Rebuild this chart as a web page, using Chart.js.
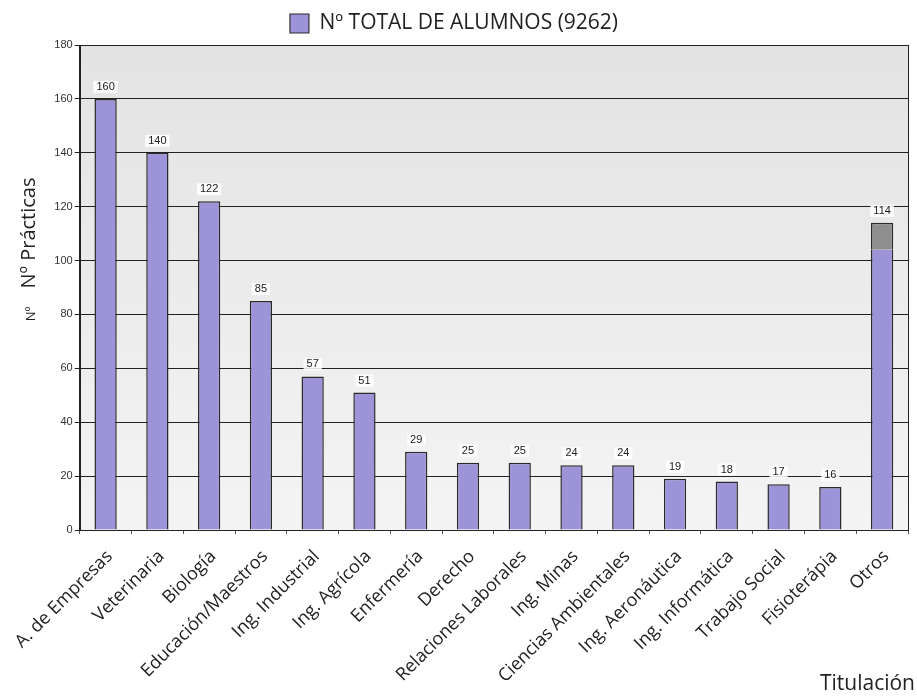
<!DOCTYPE html>
<html>
<head>
<meta charset="utf-8">
<script src="https://cdn.jsdelivr.net/npm/chart.js@4/dist/chart.umd.min.js"></script>
<style>
  html, body { margin: 0; padding: 0; background: #fff; }
  canvas { display: block; }
</style>
</head>
<body>
<canvas id="grafico" width="917" height="699"></canvas>
<script>
const titulaciones = ['A. de Empresas', 'Veterinaria', 'Biología', 'Educación/Maestros', 'Ing. Industrial',
    'Ing. Agrícola', 'Enfermería', 'Derecho', 'Relaciones Laborales', 'Ing. Minas', 'Ciencias Ambientales',
    'Ing. Aeronáutica', 'Ing. Informática', 'Trabajo Social', 'Fisioterápia', 'Otros'];
const practicas = [160, 140, 122, 85, 57, 51, 29, 25, 25, 24, 24, 19, 18, 17, 16, 114];
// tramo gris que se ve en lo alto de la barra "Otros"
const parteGris = [0, 0, 0, 0, 0, 0, 0, 0, 0, 0, 0, 0, 0, 0, 0, 10];
const ticksY = [0, 20, 40, 60, 80, 100, 120, 140, 160, 180];
const leyenda = 'Nº TOTAL DE ALUMNOS (9262)';

const parteMorada = practicas.map((v, i) => v - parteGris[i]);

const fondoYTextos = {
    id: 'fondoYTextos',
    beforeDraw(chart) {
        const { ctx, chartArea: a } = chart;
        const g = ctx.createLinearGradient(0, a.top, 0, a.bottom);
        g.addColorStop(0, '#e3e3e3');
        g.addColorStop(1, '#f4f4f4');
        ctx.save();
        ctx.fillStyle = g;
        ctx.fillRect(a.left, a.top, a.right - a.left, a.bottom - a.top);
        ctx.restore();
    },
    afterDatasetsDraw(chart) {
        const { ctx, chartArea: a, scales } = chart;
        const meta = chart.getDatasetMeta(0);
        ctx.save();
        ctx.font = '11px "Liberation Sans", Arial, sans-serif';
        ctx.textAlign = 'center';
        ctx.textBaseline = 'middle';
        practicas.forEach((v, i) => {
            const x = meta.data[i].x;
            const y = scales.y.getPixelForValue(v) - 12;
            const w = ctx.measureText(String(v)).width + 6;
            ctx.fillStyle = 'rgba(255,255,255,0.85)';
            ctx.fillRect(x - w / 2, y - 6, w, 12);
            ctx.fillStyle = '#222';
            ctx.fillText(String(v), x, y);
        });
        // marco del área
        ctx.strokeStyle = '#222';
        ctx.lineWidth = 1;
        ctx.strokeRect(Math.round(a.left) + 0.5, Math.round(a.top) + 0.5, Math.round(a.right - a.left), Math.round(a.bottom - a.top));

        // títulos de ejes
        ctx.fillStyle = '#222';
        ctx.font = '20px "Open Sans", sans-serif';
        ctx.save();
        ctx.translate(29, 233);
        ctx.rotate(-Math.PI / 2);
        ctx.fillText('Nº Prácticas', 0, 0);
        ctx.restore();
        ctx.save();
        ctx.font = '13px "Open Sans", sans-serif';
        ctx.translate(31, 314);
        ctx.rotate(-Math.PI / 2);
        ctx.fillText('Nº', 0, 0);
        ctx.restore();
        ctx.textAlign = 'right';
        ctx.textBaseline = 'alphabetic';
        ctx.font = '21px "Open Sans", sans-serif';
        ctx.fillText('Titulación', 915, 690);
        ctx.restore();
    }
};

const bordeBarra = { left: 1.5, right: 1.5, top: 1.5, bottom: 0 };

const chart = new Chart(document.getElementById('grafico'), {
    type: 'bar',
    data: {
        labels: titulaciones,
        datasets: [{
            label: leyenda,
            data: parteMorada,
            backgroundColor: '#9c93d8',
            borderColor: '#2a2a2a',
            borderWidth: c => parteGris[c.dataIndex] > 0 ? { left: 1.5, right: 1.5, top: 0, bottom: 0 } : bordeBarra,
            borderSkipped: false,
            categoryPercentage: 1,
            barPercentage: 0.43
        }, {
            label: 'gris',
            data: parteGris,
            backgroundColor: '#8e8e8e',
            borderColor: '#2a2a2a',
            borderWidth: bordeBarra,
            borderSkipped: false,
            categoryPercentage: 1,
            barPercentage: 0.43
        }]
    },
    options: {
        responsive: false,
        animation: false,
        layout: { padding: { left: 0, right: 9, top: 0, bottom: 0 } },
        plugins: {
            legend: {
                position: 'top',
                labels: {
                    boxWidth: 19,
                    boxHeight: 19,
                    padding: 13,
                    color: '#222',
                    font: { family: '"Open Sans", sans-serif', size: 21 },
                    filter: item => item.datasetIndex === 0
                }
            },
            tooltip: { enabled: false }
        },
        scales: {
            x: {
                stacked: true,
                grid: { drawOnChartArea: false, drawTicks: true, tickLength: 4, color: '#555', offset: true },
                border: { color: '#222' },
                ticks: {
                    minRotation: 45,
                    maxRotation: 45,
                    color: '#222',
                    padding: 12,
                    labelOffset: 4,
                    font: { family: '"Open Sans", sans-serif', size: 18 }
                },
                afterFit: s => { s.height = 169; }
            },
            y: {
                stacked: true,
                min: 0,
                max: 180,
                afterBuildTicks: s => { s.ticks = ticksY.map(v => ({ value: v })); },
                grid: { color: '#222', tickLength: 5, tickColor: '#222' },
                border: { color: '#222' },
                ticks: {
                    color: '#333',
                    padding: 2,
                    font: { family: '"Liberation Sans", Arial, sans-serif', size: 11 }
                },
                afterFit: s => { s.width = 79; }
            }
        }
    },
    plugins: [fondoYTextos]
});

const fitOriginal = chart.legend.fit;
chart.legend.fit = function () {
    fitOriginal.call(this);
    this.height = 45;
};
chart.update('none');
</script>
</body>
</html>
